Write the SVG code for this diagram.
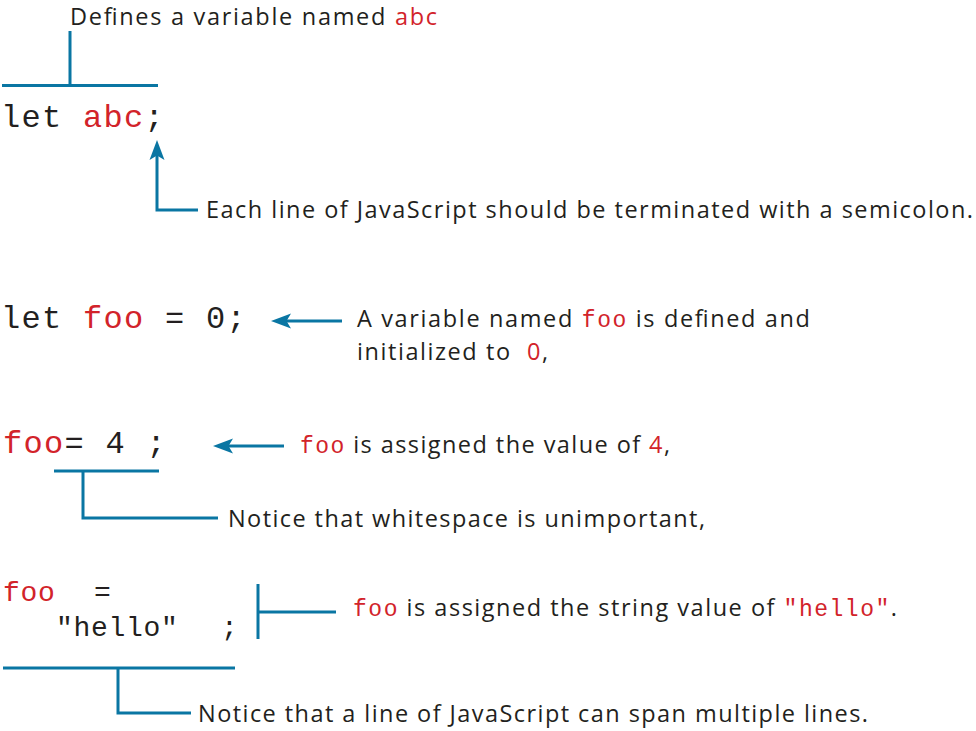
<svg xmlns="http://www.w3.org/2000/svg" width="976" height="731" viewBox="0 0 976 731">
<style>
  .lbl { font-family: "Open Sans", "Noto Sans", "Liberation Sans", sans-serif; font-size: 23.5px; fill: #231f20; }
  .code { font-family: "Liberation Mono", "DejaVu Sans Mono", monospace; font-size: 32px; letter-spacing: 1.3px; fill: #231f20; }
  .code2 { font-family: "Liberation Mono", "DejaVu Sans Mono", monospace; font-size: 28px; letter-spacing: 0.7px; fill: #231f20; }
  .m { font-family: "Liberation Mono", "DejaVu Sans Mono", monospace; font-size: 23px; }
  .red { fill: #d2232a; }
  .ln { fill: none; stroke: #0a76a3; stroke-width: 3; }
</style>
<defs>
  <marker id="ah" markerUnits="userSpaceOnUse" markerWidth="20" markerHeight="16" refX="12" refY="8" orient="auto" overflow="visible">
    <path d="M0,0.5 L20,8 L0,15.5 L4.5,8 Z" fill="#0a76a3"/>
  </marker>
</defs>
<rect width="976" height="731" fill="#ffffff"/>

<g id="connectors">
  <path class="ln" d="M2,85.5 H158 M70,31 V85.5"/>
  <path class="ln" d="M198,210 H157 V148" marker-end="url(#ah)"/>
  <path class="ln" d="M342,321 H279" marker-end="url(#ah)"/>
  <path class="ln" d="M284,446 H221" marker-end="url(#ah)"/>
  <path class="ln" d="M54,471 H159 M83,471 V518 H218"/>
  <path class="ln" d="M258,584 V639 M258,612 H336"/>
  <path class="ln" d="M3,668 H235 M118,668 V713 H191"/>
</g>

<g id="label-defines">
  <text class="lbl" x="70" y="25" textLength="367" lengthAdjust="spacing">Defines a variable named <tspan class="red">abc</tspan></text>
</g>
<g id="code-let-abc">
  <text class="code" x="1" y="127">let <tspan class="red">abc</tspan>;</text>
</g>
<g id="label-semicolon">
  <text class="lbl" x="206" y="218" textLength="767" lengthAdjust="spacing">Each line of JavaScript should be terminated with a semicolon.</text>
</g>

<g id="code-let-foo">
  <text class="code" x="1" y="328">let <tspan class="red">foo</tspan> = 0;</text>
</g>
<g id="label-defined">
  <text class="lbl" x="357" y="327" textLength="453" lengthAdjust="spacing">A variable named <tspan class="m red">foo</tspan> is defined and</text>
  <text class="lbl" x="357" y="360" xml:space="preserve" textLength="191" lengthAdjust="spacing">initialized to  <tspan class="red">0</tspan>,</text>
</g>

<g id="code-foo-4">
  <text class="code" x="3" y="453"><tspan class="red">foo</tspan>= 4 ;</text>
</g>
<g id="label-assigned-4">
  <text class="lbl" x="300" y="453" textLength="370" lengthAdjust="spacing"><tspan class="m red">foo</tspan> is assigned the value of <tspan class="red">4</tspan>,</text>
</g>
<g id="label-whitespace">
  <text class="lbl" x="228" y="527" textLength="477" lengthAdjust="spacing">Notice that whitespace is unimportant,</text>
</g>

<g id="code-foo-hello">
  <text class="code2" x="3" y="601"><tspan class="red">foo</tspan><tspan x="94">=</tspan></text>
  <text class="code2" x="56" y="636">"hello"<tspan x="221">;</tspan></text>
</g>
<g id="label-hello">
  <text class="lbl" x="353" y="616" textLength="544" lengthAdjust="spacing"><tspan class="m red">foo</tspan> is assigned the string value of <tspan class="m red">"hello"</tspan>.</text>
</g>
<g id="label-multiline">
  <text class="lbl" x="198" y="722" textLength="670" lengthAdjust="spacing">Notice that a line of JavaScript can span multiple lines.</text>
</g>
</svg>
